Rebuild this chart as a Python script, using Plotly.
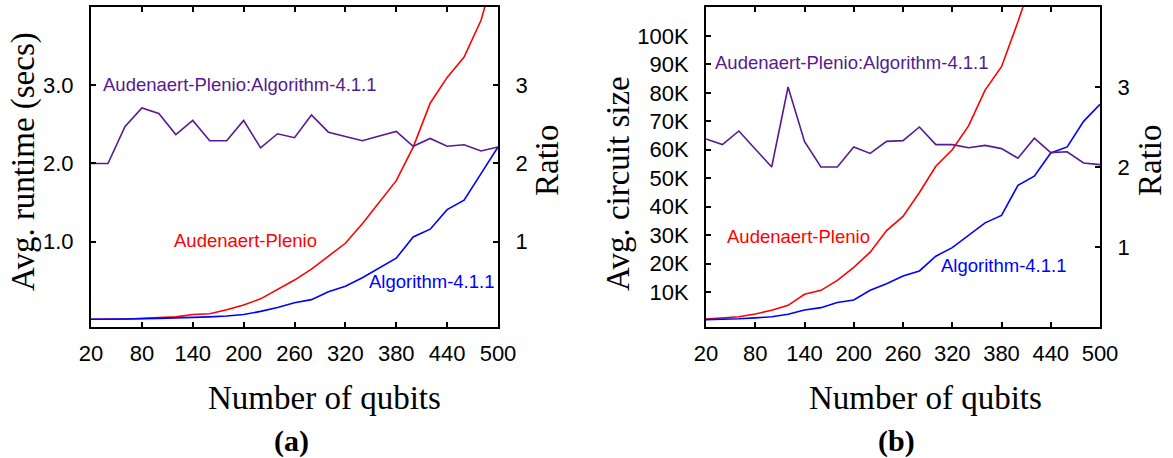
import plotly.graph_objects as go

W, H = 1173, 458

qubits = [20, 40, 60, 80, 100, 120, 140, 160, 180, 200, 220, 240, 260,
          280, 300, 320, 340, 360, 380, 400, 420, 440, 460, 480, 500]

# Panel (a): runtime in seconds
ap_runtime = [0.01, 0.01, 0.01, 0.02, 0.03, 0.04, 0.07, 0.08, 0.13, 0.19, 0.27, 0.39, 0.51,
              0.65, 0.82, 0.98, 1.23, 1.50, 1.78, 2.21, 2.77, 3.10, 3.36, 3.83, 4.60]
alg_runtime = [0.01, 0.01, 0.01, 0.015, 0.02, 0.025, 0.03, 0.04, 0.05, 0.07, 0.11, 0.16, 0.22,
               0.26, 0.36, 0.43, 0.54, 0.66, 0.79, 1.06, 1.16, 1.41, 1.53, 1.87, 2.21]
ratio_a = [2.00, 2.00, 2.47, 2.71, 2.64, 2.37, 2.55, 2.29, 2.29, 2.55, 2.20, 2.38, 2.33,
           2.62, 2.40, 2.35, 2.29, 2.35, 2.41, 2.22, 2.32, 2.22, 2.24, 2.16, 2.21]

# Panel (b): circuit size
ap_size = [500, 800, 1300, 2300, 3600, 5300, 9200, 10600, 14100, 18700, 24000, 31600, 36600,
           45000, 54200, 60000, 68500, 81000, 89200, 105000, 121000, 138000, 156000, 175000, 195000]
alg_size = [300, 400, 600, 900, 1300, 2200, 3700, 4500, 6300, 7200, 10600, 12900, 15600,
            17400, 22600, 25600, 29900, 34300, 36900, 47500, 50700, 58900, 61000, 70000, 76000]
ratio_b = [2.35, 2.28, 2.45, 2.22, 2.00, 3.00, 2.32, 2.00, 2.00, 2.25, 2.17, 2.32, 2.33,
           2.50, 2.28, 2.28, 2.24, 2.27, 2.23, 2.11, 2.36, 2.18, 2.19, 2.05, 2.03]

x_ticks = [20, 80, 140, 200, 260, 320, 380, 440, 500]
runtime_ticks = [1, 2, 3]
runtime_ticktext = ["1.0", "2.0", "3.0"]
ratio_ticks = [1, 2, 3]
ratio_ticktext = ["1", "2", "3"]
size_ticks = [10000, 20000, 30000, 40000, 50000, 60000, 70000, 80000, 90000, 100000]
size_ticktext = ["10K", "20K", "30K", "40K", "50K", "60K", "70K", "80K", "90K", "100K"]

RED = "#ff0000"
BLUE = "#0000ff"
PURPLE = "#561a91"
SANS = "Liberation Sans, Arial, sans-serif"
SERIF = "Liberation Serif, Times New Roman, serif"


def px(x):
    return x / W


def py(y):
    return 1 - y / H


fig = go.Figure()

line_w = 1.6
fig.add_trace(go.Scatter(x=qubits, y=ap_runtime, mode="lines", line=dict(color=RED, width=line_w),
                         xaxis="x", yaxis="y", showlegend=False))
fig.add_trace(go.Scatter(x=qubits, y=alg_runtime, mode="lines", line=dict(color=BLUE, width=line_w),
                         xaxis="x", yaxis="y", showlegend=False))
fig.add_trace(go.Scatter(x=qubits, y=ratio_a, mode="lines", line=dict(color=PURPLE, width=line_w),
                         xaxis="x", yaxis="y2", showlegend=False))

fig.add_trace(go.Scatter(x=qubits, y=ap_size, mode="lines", line=dict(color=RED, width=line_w),
                         xaxis="x2", yaxis="y3", showlegend=False))
fig.add_trace(go.Scatter(x=qubits, y=alg_size, mode="lines", line=dict(color=BLUE, width=line_w),
                         xaxis="x2", yaxis="y3", showlegend=False))
fig.add_trace(go.Scatter(x=qubits, y=ratio_b, mode="lines", line=dict(color=PURPLE, width=line_w),
                         xaxis="x2", yaxis="y4", showlegend=False))

tick_font = dict(family=SANS, size=22, color="black")
common_x = dict(range=[20, 500], tickvals=x_ticks, ticks="inside", ticklen=5, tickwidth=1.5,
                tickcolor="black", showline=True, linecolor="black", linewidth=2, mirror="ticks",
                showgrid=False, zeroline=False, tickfont=tick_font, ticklabelstandoff=6,
                automargin=False)
common_y = dict(ticks="inside", ticklen=5, tickwidth=1.5, tickcolor="black", showline=True,
                linecolor="black", linewidth=2, showgrid=False, zeroline=False, tickfont=tick_font,
                ticklabelstandoff=11, automargin=False)

dom_a = [px(91), px(498)]
dom_b = [px(706), px(1100)]
dom_y = [py(327), py(7)]

fig.update_layout(
    width=W, height=H,
    margin=dict(l=0, r=0, t=0, b=0),
    paper_bgcolor="white", plot_bgcolor="white",
    xaxis=dict(domain=dom_a, anchor="y", **common_x),
    yaxis=dict(domain=dom_y, anchor="x", range=[-0.09, 4.0], tickvals=runtime_ticks,
               ticktext=runtime_ticktext, **common_y),
    yaxis2=dict(overlaying="y", side="right", anchor="x", range=[-0.09, 4.0],
                tickvals=ratio_ticks, ticktext=ratio_ticktext, **common_y),
    xaxis2=dict(domain=dom_b, anchor="y3", **common_x),
    yaxis3=dict(domain=dom_y, anchor="x2", range=[-2300, 110200], tickvals=size_ticks,
                ticktext=size_ticktext, **common_y),
    yaxis4=dict(overlaying="y3", side="right", anchor="x2", range=[0, 4.0],
                tickvals=ratio_ticks, ticktext=ratio_ticktext, **common_y),
)

ann_font = 18.5
annotations = [
    # panel (a) series labels
    dict(text="Audenaert-Plenio:Algorithm-4.1.1", x=px(101), y=py(85), color=PURPLE),
    dict(text="Audenaert-Plenio", x=px(172), y=py(241), color=RED),
    dict(text="Algorithm-4.1.1", x=px(367), y=py(281), color=BLUE),
    # panel (b) series labels
    dict(text="Audenaert-Plenio:Algorithm-4.1.1", x=px(713), y=py(63), color=PURPLE),
    dict(text="Audenaert-Plenio", x=px(725), y=py(236), color=RED),
    dict(text="Algorithm-4.1.1", x=px(939), y=py(265), color=BLUE),
]
for a in annotations:
    fig.add_annotation(text=a["text"], x=a["x"], y=a["y"], xref="paper", yref="paper",
                       xanchor="left", yanchor="middle", showarrow=False,
                       font=dict(family=SANS, size=ann_font, color=a["color"]))

titles = [
    ("Avg. runtime (secs)", 23, 162, -90),
    ("Ratio", 547, 160, -90),
    ("Number of qubits", 324, 398, 0),
    ("Avg. circuit size", 618, 184, -90),
    ("Ratio", 1150, 160, -90),
    ("Number of qubits", 925, 398, 0),
]
for t, x, y, ang in titles:
    fig.add_annotation(text=t, x=px(x), y=py(y), xref="paper", yref="paper",
                       xanchor="center", yanchor="middle", showarrow=False, textangle=ang,
                       font=dict(family=SERIF, size=33, color="black"))

for t, x in [("<b>(a)</b>", 291), ("<b>(b)</b>", 897)]:
    fig.add_annotation(text=t, x=px(x), y=py(441), xref="paper", yref="paper",
                       xanchor="center", yanchor="middle", showarrow=False,
                       font=dict(family=SERIF, size=30, color="black"))

fig.write_html("out.html")
